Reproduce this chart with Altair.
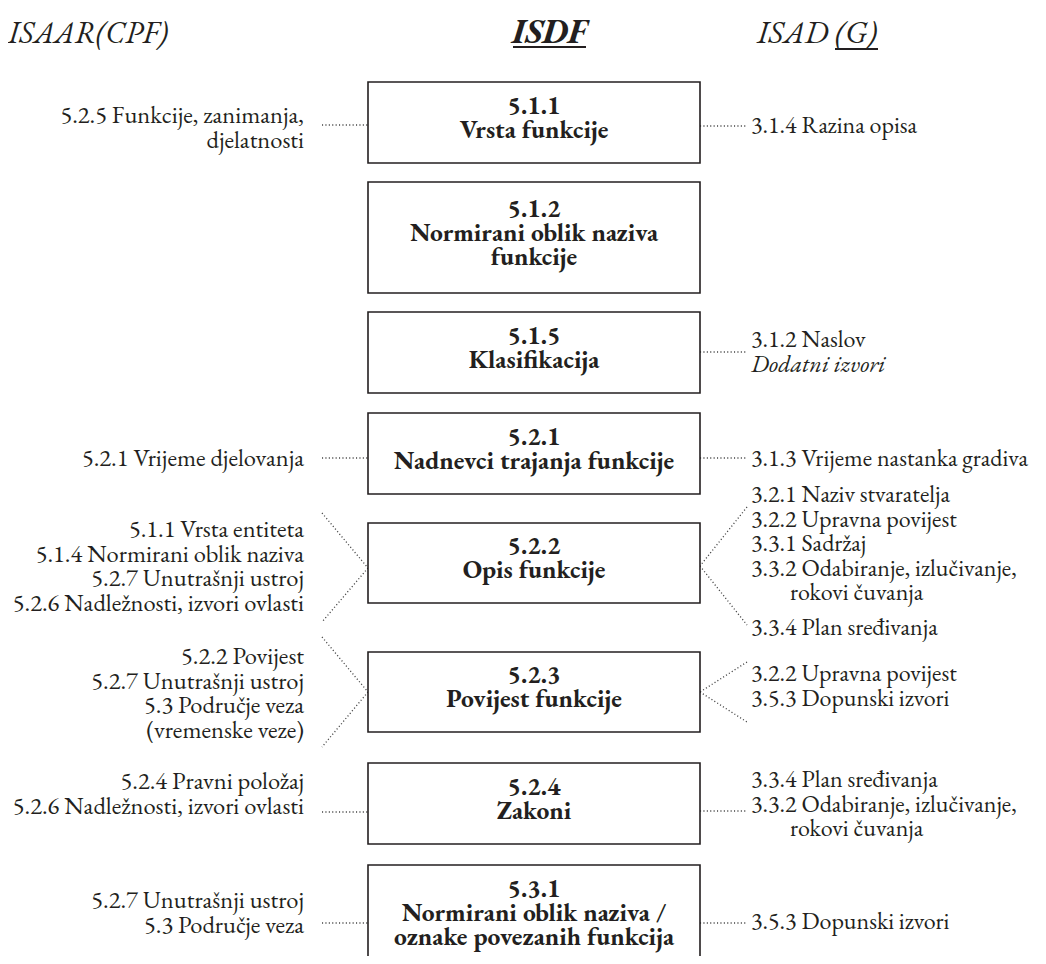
import altair as alt
import pandas as pd

# ------------------------------------------------------------------ data
column_titles = ["ISAAR(CPF)", "ISDF", "ISAD (G)"]

box_codes = ["5.1.1", "5.1.2", "5.1.5", "5.2.1", "5.2.2", "5.2.3", "5.2.4", "5.3.1"]
box_names = [
    ["Vrsta funkcije"],
    ["Normirani oblik naziva", "funkcije"],
    ["Klasifikacija"],
    ["Nadnevci trajanja funkcije"],
    ["Opis funkcije"],
    ["Povijest funkcije"],
    ["Zakoni"],
    ["Normirani oblik naziva /", "oznake povezanih funkcija"],
]
isaar_links = [
    ["5.2.5 Funkcije, zanimanja,", "djelatnosti"],
    [],
    [],
    ["5.2.1 Vrijeme djelovanja"],
    ["5.1.1 Vrsta entiteta", "5.1.4 Normirani oblik naziva",
     "5.2.7 Unutrašnji ustroj", "5.2.6 Nadležnosti, izvori ovlasti"],
    ["5.2.2 Povijest", "5.2.7 Unutrašnji ustroj", "5.3 Područje veza",
     "(vremenske veze)"],
    ["5.2.4 Pravni položaj", "5.2.6 Nadležnosti, izvori ovlasti"],
    ["5.2.7 Unutrašnji ustroj", "5.3 Područje veza"],
]
isad_links = [
    ["3.1.4 Razina opisa"],
    [],
    ["3.1.2 Naslov", "Dodatni izvori"],
    ["3.1.3 Vrijeme nastanka gradiva"],
    ["3.2.1 Naziv stvaratelja", "3.2.2 Upravna povijest", "3.3.1 Sadržaj",
     "3.3.2 Odabiranje, izlučivanje,", "rokovi čuvanja", "3.3.4 Plan sređivanja"],
    ["3.2.2 Upravna povijest", "3.5.3 Dopunski izvori"],
    ["3.3.4 Plan sređivanja", "3.3.2 Odabiranje, izlučivanje,", "rokovi čuvanja"],
    ["3.5.3 Dopunski izvori"],
]
italic_lines = {"Dodatni izvori"}
indented_lines = {"rokovi čuvanja"}

# ------------------------------------------------------------------ layout (page pixels)
W, H = 1030, 948
BOX_L, BOX_R = 368, 700
box_top = [82, 182, 312, 413, 523, 652, 763, 865]
box_bottom = [163, 293, 393, 494, 603, 732, 844, 975]
BOX_STEP = 24
LINE_STEP = 24.5
LEFT_TEXT_X, RIGHT_TEXT_X, INDENT_X = 304, 751, 790
left_first = [116, None, None, 459, 530, 657, 782, 901]
right_first = [126, None, 340, 459, 495, 674, 780, 922]
right_extra_gap = {(4, 5): 10}
L_DOT_X0, R_DOT_X1 = 322, 747
left_conn = [("h", 125), None, None, ("h", 458), ("fan", 513, 568, 622),
             ("fan", 637, 692, 747), ("h", 812), ("h", 923)]
right_conn = [("h", 126), None, ("h", 352), ("h", 458), ("fan", 507, 566, 625),
              ("fan", 662, 692, 722), ("h", 811), ("h", 923)]
TITLE_BASE = 43
title_x = [8, 549, 757]
title_size = [31, 34, 32]
underlines = [(513, 586, 47), (835, 878, 49)]

INK = "#231f20"
FONT = "EB Garamond"
LEFT_SIZE, RIGHT_SIZE, BOX_SIZE = 24.5, 24, 25.5

# ------------------------------------------------------------------ tables
boxes = pd.DataFrame({"code": box_codes, "x": BOX_L, "x2": BOX_R,
                      "y": box_top, "y2": box_bottom})

box_text = []
for i, (code, names) in enumerate(zip(box_codes, box_names)):
    lines = [code] + names
    mid = (box_top[i] + min(box_bottom[i], 971)) / 2 - 5
    start = mid - BOX_STEP * (len(lines) - 1) / 2
    for j, t in enumerate(lines):
        box_text.append({"t": t, "x": (BOX_L + BOX_R) / 2, "y": start + BOX_STEP * j})
box_text = pd.DataFrame(box_text)

left_text = []
for i, lines in enumerate(isaar_links):
    for j, t in enumerate(lines):
        left_text.append({"t": t, "x": LEFT_TEXT_X, "y": left_first[i] + LINE_STEP * j})
left_text = pd.DataFrame(left_text)

right_rows = []
for i, lines in enumerate(isad_links):
    off = 0
    for j, t in enumerate(lines):
        off += right_extra_gap.get((i, j), 0)
        right_rows.append({"t": t,
                           "x": INDENT_X if t in indented_lines else RIGHT_TEXT_X,
                           "y": right_first[i] + LINE_STEP * j + off,
                           "it": t in italic_lines})
right_rows = pd.DataFrame(right_rows)
right_text = right_rows[~right_rows["it"]]
right_ital = right_rows[right_rows["it"]]

segs = []
for c in left_conn:
    if c is None:
        continue
    if c[0] == "h":
        segs.append({"x": L_DOT_X0, "x2": BOX_L, "y": c[1], "y2": c[1]})
    else:
        segs.append({"x": L_DOT_X0, "x2": BOX_L, "y": c[1], "y2": c[2]})
        segs.append({"x": BOX_L, "x2": L_DOT_X0, "y": c[2], "y2": c[3]})
for c in right_conn:
    if c is None:
        continue
    if c[0] == "h":
        segs.append({"x": BOX_R, "x2": R_DOT_X1, "y": c[1], "y2": c[1]})
    else:
        segs.append({"x": R_DOT_X1, "x2": BOX_R, "y": c[1], "y2": c[2]})
        segs.append({"x": BOX_R, "x2": R_DOT_X1, "y": c[2], "y2": c[3]})
segs = pd.DataFrame(segs)

titles = pd.DataFrame({"t": column_titles, "x": title_x, "y": TITLE_BASE})
ul = pd.DataFrame([{"x": a, "x2": b, "y": c, "y2": c} for a, b, c in underlines])

# ------------------------------------------------------------------ chart
X = alt.Scale(domain=[8, 8 + W])
Y = alt.Scale(domain=[8, 8 + H], reverse=True)


def xy(**extra):
    enc = dict(x=alt.X("x:Q", scale=X, axis=None),
               y=alt.Y("y:Q", scale=Y, axis=None))
    enc.update(extra)
    return enc


rects = alt.Chart(boxes).mark_rect(fill="white", stroke=INK, strokeWidth=1.6,
                                   clip=True).encode(
    **xy(x2="x2:Q", y2="y2:Q"))

dots = alt.Chart(segs).mark_rule(stroke="#444444", strokeWidth=1.3,
                                 strokeDash=[1.1, 2.3]).encode(
    **xy(x2="x2:Q", y2="y2:Q"))

btext = alt.Chart(box_text).mark_text(font=FONT, fontSize=BOX_SIZE, fontWeight="bold",
                                      color=INK, align="center",
                                      baseline="middle").encode(**xy(text="t:N"))

ltext = alt.Chart(left_text).mark_text(font=FONT, fontSize=LEFT_SIZE, color=INK,
                                       align="right", baseline="middle").encode(
    **xy(text="t:N"))

rtext = alt.Chart(right_text).mark_text(font=FONT, fontSize=RIGHT_SIZE, color=INK,
                                        align="left", baseline="middle").encode(
    **xy(text="t:N"))

ritext = alt.Chart(right_ital).mark_text(font=FONT, fontSize=RIGHT_SIZE, color=INK,
                                         fontStyle="italic", align="left",
                                         baseline="middle").encode(**xy(text="t:N"))

t_left = alt.Chart(titles.iloc[[0]]).mark_text(
    font=FONT, fontSize=title_size[0], fontStyle="italic", color=INK, align="left",
    baseline="alphabetic").encode(**xy(text="t:N"))
t_mid = alt.Chart(titles.iloc[[1]]).mark_text(
    font=FONT, fontSize=title_size[1], fontStyle="italic", fontWeight="bold", color=INK,
    align="center", baseline="alphabetic").encode(**xy(text="t:N"))
t_right = alt.Chart(titles.iloc[[2]]).mark_text(
    font=FONT, fontSize=title_size[2], fontStyle="italic", color=INK, align="left",
    baseline="alphabetic").encode(**xy(text="t:N"))

under = alt.Chart(ul).mark_rule(stroke=INK, strokeWidth=2).encode(
    **xy(x2="x2:Q", y2="y2:Q"))

chart = alt.layer(dots, rects, btext, ltext, rtext, ritext,
                  t_left, t_mid, t_right, under).properties(
    width=W, height=H, padding=0,
    autosize=alt.AutoSizeParams(type="none"),
    background="white",
).configure_view(stroke=None)

chart.save("out.html", embed_options={"renderer": "svg", "actions": False})
